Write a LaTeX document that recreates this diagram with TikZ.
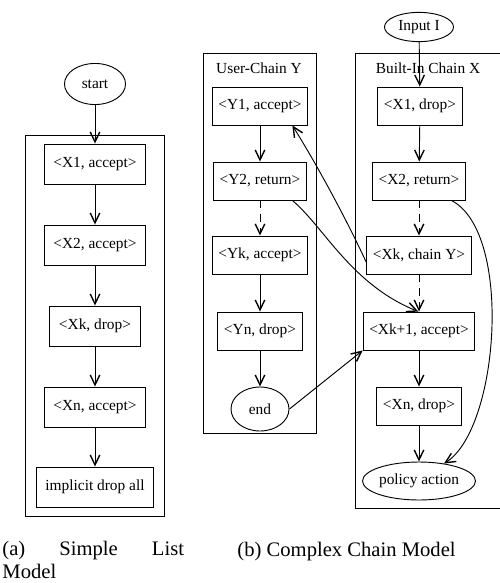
\documentclass[tikz,border=0pt]{standalone}
\usepackage{fontspec}
\setmainfont{Liberation Serif}
\usetikzlibrary{arrows.meta,shapes.geometric}

\begin{document}
\begin{tikzpicture}[x=0.65pt,y=-0.65pt,>={Straight Barb[length=6.5pt,width=6.2pt,line width=0.9pt]},line width=0.6pt,font=\fontsize{10}{12}\selectfont,
	rule/.style={draw,rectangle,inner xsep=6pt,inner ysep=0pt,minimum height=26pt},
	rrule/.style={rule,inner xsep=4pt,minimum height=24.7pt},
	oval/.style={draw,ellipse,inner sep=0pt},
	skip/.style={->,dash pattern=on 5pt off 4pt}]
	\useasboundingbox (0,0) rectangle (499,583);
	% (a) simple list
	\draw (25,135) rectangle (164,516);
	\node[oval,minimum width=39.7pt,minimum height=26.7pt] (start) at (95,84) {start};
	\node[rule] (a1) at (95,164) {<X1, accept>};
	\node[rule] (a2) at (95,245) {<X2, accept>};
	\node[rule] (ak) at (95,326) {<Xk, drop>};
	\node[rule] (an) at (95,407) {<Xn, accept>};
	\node[rule] (adrop) at (95,487) {implicit drop all};
	\draw[->] (start)--(a1);
	\draw[->] (a1)--(a2);
	\draw[->] (a2)--(ak);
	\draw[->] (ak)--(an);
	\draw[->] (an)--(adrop);
	% (b) chains
	\draw (203,53) rectangle (316,433);
	\draw (355,53) rectangle (506,508);
	\node (ylabel) at (259,68) {User-Chain Y};
	\node (xlabel) at (428,68) {Built-In Chain X};
	\node[oval,minimum width=44.9pt,minimum height=19pt] (input) at (419,27) {Input I};
	\node[rrule] (y1) at (260,106) {<Y1, accept>};
	\node[rrule] (y2) at (260,181) {<Y2, return>};
	\node[rrule] (yk) at (260,255) {<Yk, accept>};
	\node[rrule] (yn) at (260,331) {<Yn, drop>};
	\node[oval,minimum width=37.7pt,minimum height=28.6pt] (yend) at (260,409) {end};
	\node[rrule] (x1) at (420,106) {<X1, drop>};
	\node[rrule] (x2) at (419,181) {<X2, return>};
	\node[rrule] (xk) at (419,255) {<Xk, chain Y>};
	\node[rrule] (xk1) at (419,331) {<Xk+1, accept>};
	\node[rrule] (xn) at (419,406) {<Xn, drop>};
	\node[oval,minimum width=68.9pt,minimum height=24.7pt] (policy) at (419,481) {policy action};
	\draw[->] (y1)--(y2);
	\draw[skip] (y2)--(yk);
	\draw[->] (yk)--(yn);
	\draw[->] (yn)--(yend);
	\draw[->] (input)--(x1);
	\draw[->] (x1)--(x2);
	\draw[skip] (x2)--(xk);
	\draw[skip] (xk)--(xk1);
	\draw[->] (xk1)--(xn);
	\draw[->] (xn)--(policy);
	\draw[->] (xk.188) .. controls +(-17,-37) and +(28,45) .. (y1.-31);
	\draw[->] (y2.-31) .. controls +(32,27) and +(-67,-27) .. (xk1.92);
	\draw[->] (yend.east)--(xk1.south west);
	\draw[->] (x2.-31) .. controls +(62,32) and +(55,-34) .. (policy.35);
	% captions
	\node[anchor=north west,text width=118pt,align=left,inner sep=0pt,font=\fontsize{13.4}{14.5}\selectfont] (capa) at (2,541) {(a)\hfill Simple\hfill List\\Model};
	\node[anchor=base west,inner sep=0pt,font=\fontsize{13.4}{14.5}\selectfont] (capb) at (237,556) {(b) Complex Chain Model};
\end{tikzpicture}
\end{document}
